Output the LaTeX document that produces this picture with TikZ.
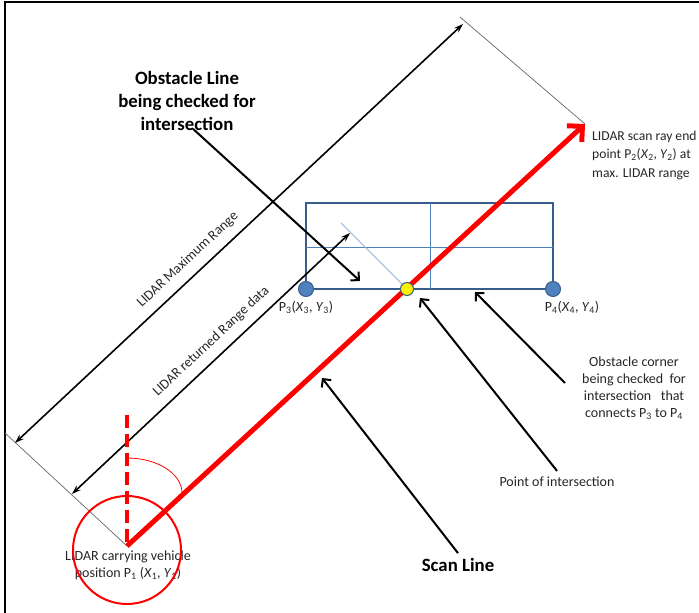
\documentclass[tikz,border=0pt]{standalone}
\usepackage{fontspec}
\setmainfont{Carlito}
\usetikzlibrary{arrows.meta,positioning}
\definecolor{boxblue}{HTML}{385D8A}
\definecolor{gridblue}{HTML}{4F81BD}
\definecolor{paleblue}{HTML}{95B3D7}
\definecolor{inkgray}{HTML}{262626}
\begin{document}
\begin{tikzpicture}[x=1pt,y=1pt,
    txt/.style={font=\fontsize{14}{17}\selectfont,text=inkgray,align=center,inner sep=1pt},
    title/.style={font=\fontsize{18.8}{23}\selectfont\bfseries,align=center,inner sep=1pt},
    callout/.style={line width=2pt,-{Straight Barb[length=6pt,width=12pt]}},
    rangearrow/.style={line width=1.6pt,{Stealth[length=9pt,width=6pt]}-{Stealth[length=9pt,width=6pt]}},
    guide/.style={draw=black!60,line width=0.7pt},
    corner/.style={circle,draw=boxblue,fill=gridblue,line width=1pt,minimum size=15pt,inner sep=0pt},
    hit/.style={circle,draw=boxblue,fill=yellow,line width=1pt,minimum size=13pt,inner sep=0pt}]
    \useasboundingbox (0,0) rectangle (699,613);
    \draw[line width=2pt] (5,0) -- (5,610.5) -- (699,610.5);

    \coordinate (p1) at (127,67);
    \coordinate (p2) at (585,489);
    \coordinate (gl) at (5,180);
    \coordinate (gr) at (460,596);
    \coordinate (maxa) at (15,170);
    \coordinate (maxb) at (463,589);
    \coordinate (reta) at (72,119);
    \coordinate (retb) at (350,380);
    \coordinate (vert) at (127,198);
    \coordinate (lightend) at (341,390);

    \draw[guide] (gl) -- (p1);
    \draw[guide] (gr) -- (p2);

    \draw[boxblue,line width=2pt] (306,324) rectangle (553,410);
    \draw[gridblue,line width=0.8pt] (430,324) -- (430,410);
    \draw[gridblue,line width=0.8pt] (306,366) -- (553,366);

    \node[corner] (p3) at (306,324) {};
    \node[corner] (p4) at (553,324) {};
    \coordinate (x) at (407,324);
    \draw[paleblue,line width=0.8pt] (lightend) -- (x);

    \draw[rangearrow] (maxa) -- node[txt,pos=0.41,sloped,above=8pt] (maxlbl) {LIDAR Maximum Range} (maxb);
    \draw[rangearrow] (reta) -- node[txt,pos=0.54,sloped,above=8pt] (retlbl) {LIDAR returned Range data} (retb);

    \node[txt] (veh) at (128,48) {LIDAR carrying vehicle\\position P\textsubscript{1} (\textit{X}\textsubscript{1}, \textit{Y}\textsubscript{1})};
    \draw[red,line width=2pt] (127,63) circle[radius=54];
    \draw[red,line width=0.8pt] (127,155) arc[start angle=90,end angle=0,x radius=55,y radius=35];
    \draw[red,line width=4.5pt,dash pattern=on 13pt off 6pt] (vert) -- (p1);
    \draw[red,line width=5pt,line join=miter,-{Straight Barb[length=11pt,width=22pt]}] (p1) -- (p2);
    \node[hit] (hitpt) at (x) {};

    \node[txt,below=3pt of p3] (p3lbl) {P\textsubscript{3}(\textit{X}\textsubscript{3}, \textit{Y}\textsubscript{3})};
    \node[txt,below=3pt of p4,xshift=19pt] (p4lbl) {P\textsubscript{4}(\textit{X}\textsubscript{4}, \textit{Y}\textsubscript{4})};

    \node[title] (obst) at (187,512) {Obstacle Line\\being checked for\\intersection};
    \node[txt,anchor=west,align=left,font=\fontsize{13.6}{18.5}\selectfont] (p2lbl) at (591,458)
        {LIDAR scan ray end\\point P\textsubscript{2}(\textit{X}\textsubscript{2}, \textit{Y}\textsubscript{2}) at\\max. LIDAR range};
    \node[txt] (cornerlbl) at (634,225) {Obstacle corner\\being checked~ for\\intersection~~ that\\connects P\textsubscript{3} to P\textsubscript{4}};
    \node[txt] (pointlbl) at (557,131) {Point of intersection};
    \node[title] (scanlbl) at (458,48) {Scan Line};

    \coordinate (obsttip) at (360,332);
    \coordinate (cornertail) at (565,230);
    \coordinate (cornertip) at (475,321);
    \coordinate (pointtip) at (420,315);
    \coordinate (scantip) at (322,235);

    \draw[callout] ([xshift=6pt,yshift=3pt]obst.south) -- (obsttip);
    \draw[callout] (cornertail) -- (cornertip);
    \draw[callout] ([yshift=5pt]pointlbl.north) -- (pointtip);
    \draw[callout] ([yshift=4pt]scanlbl.north) -- (scantip);
\end{tikzpicture}
\end{document}
